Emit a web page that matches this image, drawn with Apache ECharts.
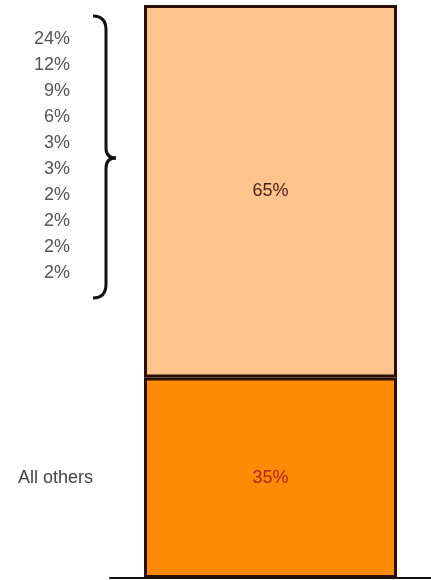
<!DOCTYPE html>
<html><head><meta charset="utf-8">
<script src="https://cdn.jsdelivr.net/npm/echarts@6/dist/echarts.min.js"></script>
<style>html,body{margin:0;padding:0;background:#fff}#c{width:431px;height:580px}</style>
</head><body><div id="c"></div>
<script>
const categories = ['Share'];
const topShare = [65];
const bottomShare = [35];
const breakdown = [24, 12, 9, 6, 3, 3, 2, 2, 2, 2];
const bottomName = 'All others';

const chart = echarts.init(document.getElementById('c'), null, {renderer: 'canvas'});
const FONT = 'Liberation Sans';
chart.setOption({
  animation: false,
  backgroundColor: '#ffffff',
  grid: [
    {left: 110, right: 0, top: 5, bottom: 2},
    {left: 72, width: 1, top: 26, height: 260}
  ],
  xAxis: [
    {type: 'category', data: categories, gridIndex: 0,
     axisLine: {show: true, lineStyle: {color: '#111', width: 2}},
     axisTick: {show: false}, axisLabel: {show: false}, splitLine: {show: false}},
    {type: 'value', gridIndex: 1, show: false}
  ],
  yAxis: [
    {type: 'value', gridIndex: 0, min: 0, max: 100, show: false},
    {type: 'category', gridIndex: 1, inverse: true, data: breakdown.map(v => v + '%'),
     axisLine: {show: false}, axisTick: {show: false}, splitLine: {show: false},
     axisLabel: {margin: 2, color: '#555', fontFamily: FONT, fontSize: 18}}
  ],
  series: [
    {type: 'bar', stack: 's', data: bottomShare, barWidth: 253,
     itemStyle: {color: '#ff8a05', borderColor: '#2a0e08', borderWidth: 3},
     label: {show: true, position: 'inside', formatter: '{c}%', color: '#b3261a', fontFamily: FONT, fontSize: 18}},
    {type: 'bar', stack: 's', data: topShare, barWidth: 253,
     itemStyle: {color: '#fdc48e', borderColor: '#2a0e08', borderWidth: 3},
     label: {show: true, position: 'inside', formatter: '{c}%', color: '#4a2214', fontFamily: FONT, fontSize: 18}},
    {type: 'scatter', xAxisIndex: 1, yAxisIndex: 1, data: [], silent: true}
  ]
});

const mid = chart.convertToPixel({xAxisIndex: 0, yAxisIndex: 0}, [0, bottomShare[0] / 2]);
const bs = {fill: 'none', stroke: '#111', lineWidth: 3};
chart.setOption({
  graphic: [
    {type: 'bezierCurve', shape: {x1: 93, y1: 16, x2: 106, y2: 30, cpx1: 106, cpy1: 16}, style: bs},
    {type: 'line', shape: {x1: 106, y1: 30, x2: 106, y2: 148}, style: bs},
    {type: 'bezierCurve', shape: {x1: 106, y1: 148, x2: 116, y2: 158, cpx1: 106, cpy1: 158}, style: bs},
    {type: 'bezierCurve', shape: {x1: 116, y1: 158, x2: 106, y2: 168, cpx1: 106, cpy1: 158}, style: bs},
    {type: 'line', shape: {x1: 106, y1: 168, x2: 106, y2: 284}, style: bs},
    {type: 'bezierCurve', shape: {x1: 106, y1: 284, x2: 93, y2: 298, cpx1: 106, cpy1: 298}, style: bs},
    {type: 'text', x: 18, y: mid[1], style: {text: bottomName, fill: '#444', font: '18px "' + FONT + '"', textVerticalAlign: 'middle'}}
  ]
});
</script></body></html>
